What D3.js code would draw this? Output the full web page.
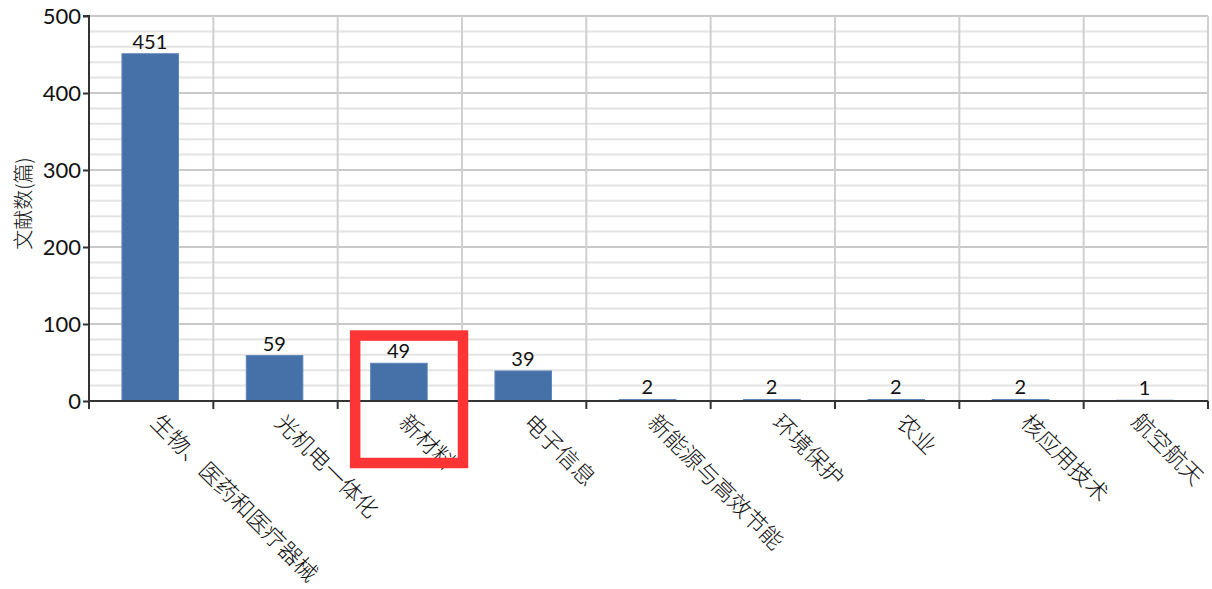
<!DOCTYPE html>
<html>
<head>
<meta charset="utf-8">
<script src="https://cdn.jsdelivr.net/npm/d3@7/dist/d3.min.js"></script>
<style>
  html, body { margin: 0; padding: 0; background: #fff; }
  svg { display: block; }
  .num { font-family: Lato, "Open Sans", sans-serif; fill: #111; }
  .cjk { font-family: "Noto Sans CJK SC", sans-serif; font-weight: 300; fill: #111; }
</style>
</head>
<body>
<svg id="chart" width="1212" height="589"></svg>
<script>
// 各领域文献数量
const categories = ["生物、医药和医疗器械", "光机电一体化", "新材料", "电子信息", "新能源与高效节能", "环境保护", "农业", "核应用技术", "航空航天"];
const counts = [451, 59, 49, 39, 2, 2, 2, 2, 1];
const yTicks = [0, 100, 200, 300, 400, 500];
const yTitle = "文献数(篇)";
const highlighted = "新材料";

const svg = d3.select("#chart");
const plotLeft = 89, plotRight = 1208, plotTop = 16, plotBottom = 401;

const x = d3.scaleBand().domain(categories).range([plotLeft, plotRight]).padding(0);
const y = d3.scaleLinear().domain([0, 500]).range([plotBottom, plotTop]);
const bw = x.bandwidth();

// minor gridlines every 20
const minor = d3.range(20, 501, 20).filter(v => v % 100 !== 0);
svg.append("g").selectAll("line").data(minor).join("line")
  .attr("x1", plotLeft).attr("x2", plotRight)
  .attr("y1", d => y(d)).attr("y2", d => y(d))
  .attr("stroke", "#e4e4e4").attr("stroke-width", 2);

// major gridlines every 100
svg.append("g").selectAll("line").data(yTicks.filter(v => v > 0)).join("line")
  .attr("x1", plotLeft).attr("x2", plotRight)
  .attr("y1", d => y(d)).attr("y2", d => y(d))
  .attr("stroke", "#c9c9c9").attr("stroke-width", 2);

// vertical gridlines at category boundaries
const bounds = categories.map(c => x(c)).concat([plotRight]).slice(1);
svg.append("g").selectAll("line").data(bounds).join("line")
  .attr("x1", d => d).attr("x2", d => d)
  .attr("y1", plotTop).attr("y2", plotBottom)
  .attr("stroke", "#d0d0d0").attr("stroke-width", 2);

// bars
svg.append("g").selectAll("rect").data(categories).join("rect")
  .attr("x", c => x(c) + bw * 0.265)
  .attr("width", bw * 0.455)
  .attr("y", (c, i) => y(counts[i]))
  .attr("height", (c, i) => plotBottom - y(counts[i]))
  .attr("fill", "#4571a8")
  .attr("stroke", "#5d86ba").attr("stroke-width", 1);

// value labels
svg.append("g").selectAll("text").data(categories).join("text")
  .attr("class", "num")
  .attr("x", c => x(c) + bw * 0.49)
  .attr("y", (c, i) => y(counts[i]) - 5)
  .attr("text-anchor", "middle")
  .attr("font-size", 20)
  .text((c, i) => counts[i]);

// y axis
const yAxis = d3.axisLeft(y).tickValues(yTicks).tickSize(6).tickPadding(2);
const gy = svg.append("g").attr("transform", `translate(${plotLeft},0)`).call(yAxis);
gy.select(".domain").attr("stroke", "#333").attr("stroke-width", 2).attr("d", `M-6,${plotTop}H0V${plotBottom}`);
gy.selectAll(".tick line").attr("stroke", "#333").attr("stroke-width", 2);
gy.selectAll(".tick text").attr("class", "num").attr("font-size", 22).attr("dy", "0.36em");

// x axis
const xAxis = d3.axisBottom(x).tickSize(0).tickFormat("");
const gx = svg.append("g").attr("transform", `translate(0,${plotBottom})`).call(xAxis);
gx.select(".domain").attr("stroke", "#333").attr("stroke-width", 2).attr("d", `M${plotLeft},0H${plotRight}`);
gx.selectAll(".tick").remove();
gx.append("g").selectAll("line").data([plotLeft].concat(bounds)).join("line")
  .attr("x1", d => d).attr("x2", d => d).attr("y1", 0).attr("y2", 8)
  .attr("stroke", "#333").attr("stroke-width", 2);

// rotated category labels (pulled left if they would run past the plot edge)
const labelSize = 22.5;
const cos45 = Math.SQRT1_2;
const labels = svg.append("g").selectAll("text").data(categories).join("text")
  .attr("class", "cjk")
  .attr("font-size", labelSize)
  .attr("text-anchor", "start")
  .text(c => c);
labels.each(function (c) {
  const len = this.getComputedTextLength();
  const maxX = plotRight - (len * cos45 + labelSize * 0.88 * cos45);
  const ax = Math.min(x(c) + bw / 2 - 2, maxX);
  const ay = plotBottom + 23 + (ax - (x(c) + bw / 2 - 2));
  d3.select(this).attr("transform", `translate(${ax},${Math.max(ay, plotBottom + 22)}) rotate(45)`);
});

// y axis title
svg.append("text")
  .attr("class", "cjk")
  .attr("font-size", 20)
  .attr("text-anchor", "middle")
  .attr("transform", `translate(31,${(plotTop + plotBottom) / 2 - 5}) rotate(-90)`)
  .text(yTitle);

// highlight box around one category
svg.append("rect")
  .attr("x", x(highlighted) + 17.5)
  .attr("y", y(85))
  .attr("width", bw - 16.5)
  .attr("height", plotBottom + 62 - y(85))
  .attr("fill", "none")
  .attr("stroke", "#ff3535")
  .attr("stroke-width", 10.5);
</script>
</body>
</html>
